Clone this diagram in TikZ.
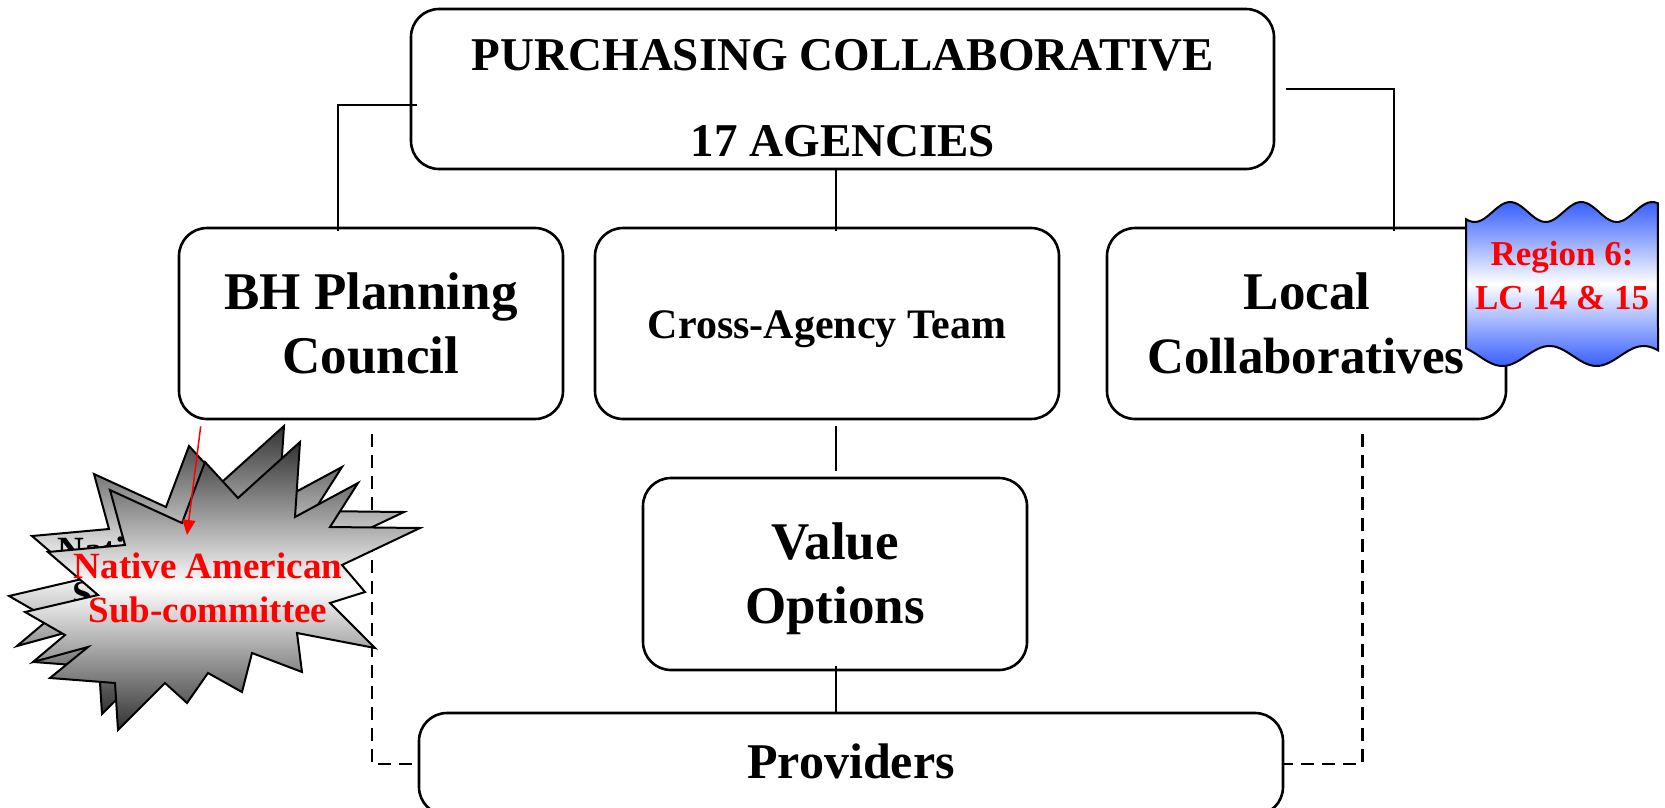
\documentclass[tikz,border=0pt]{standalone}
\usepackage{fontspec}
\setmainfont{Liberation Serif}
\usetikzlibrary{calc,arrows.meta}
\definecolor{wblue}{RGB}{55,95,255}
\newcommand\pcTitle{\bfseries\fontsize{47}{50}\selectfont}
\newcommand\pcBig{\bfseries\fontsize{53}{60}\selectfont}
\newcommand\pcColl{\bfseries\fontsize{51}{60}\selectfont}
\newcommand\pcMid{\bfseries\fontsize{42}{48}\selectfont}
\newcommand\pcProv{\bfseries\fontsize{50}{56}\selectfont}
\newcommand\pcStar{\bfseries\fontsize{37}{44}\selectfont}
\newcommand\pcReg{\bfseries\fontsize{35}{44}\selectfont}
\begin{document}
\begin{tikzpicture}[x=1pt,y=-1pt,
  box/.style={draw, line width=2.6pt, rounded corners=28pt, fill=white, inner sep=0pt},
  conn/.style={line width=2pt},
  dconn/.style={line width=2.4pt, dash pattern=on 13pt off 8pt},
  txt/.style={anchor=base, inner sep=0pt},
  starshape/.style={draw, line width=2pt, line join=miter, top color=black!80, bottom color=black!80, middle color=white},
  wavestyle/.style={draw, line width=2pt, top color=wblue, bottom color=wblue, middle color=white}]
\useasboundingbox (0,0) rectangle (1665,807);
\clip (0,0) rectangle (1665,807);

% boxes
\node[box, minimum width=863pt, minimum height=160pt] (top) at (842.5,89) {};
\node[box, minimum width=384pt, minimum height=191pt] (bh) at (371,323.5) {};
\node[box, minimum width=464pt, minimum height=191pt] (cross) at (827,323.5) {};
\node[box, minimum width=399pt, minimum height=191pt] (lc) at (1306.5,323.5) {};
\node[box, minimum width=384pt, minimum height=192pt] (value) at (835,574) {};
\node[box, minimum width=864pt, minimum height=102pt] (prov) at (851,764) {};

% texts
\node[txt, font=\pcTitle] (t1) at (843,70) {PURCHASING COLLABORATIVE};
\node[txt, font=\pcTitle] (t2) at (843,156) {17 AGENCIES};
\node[txt, font=\pcBig] (bh1) at (371,309) {BH Planning};
\node[txt, font=\pcBig] (bh2) at (371,373) {Council};
\node[txt, font=\pcMid] (cr1) at (827,338) {Cross-Agency Team};
\node[txt, font=\pcBig] (lc1) at (1307,309) {Local};
\node[txt, font=\pcColl] (lc2) at (1306,373) {Collaboratives};
\node[txt, font=\pcBig] (vo1) at (835,559) {Value};
\node[txt, font=\pcBig] (vo2) at (835,623) {Options};
\node[txt, font=\pcProv] (pr1) at (851,778) {Providers};

% connectors
\coordinate (vx) at (836,0);
\draw[conn] ($(top.west)+(7,16)$) -| ($(bh.north)+(-33,4)$);
\draw[conn] ($(top.east)+(11,0)$) -| ($(lc.north)+(87.5,4)$);
\draw[conn] (top.south -| vx) -- ($(cross.north -| vx)+(0,4)$);
\draw[conn] ($(cross.south -| vx)+(0,6)$) -- ($(value.north -| vx)+(0,-6)$);
\draw[conn] ($(value.south -| vx)+(0,-5)$) -- (prov.north -| vx);
\draw[dconn] ($(bh.south)+(1,14)$) |- (prov.west);
\draw[dconn] ($(lc.south)+(56,14)$) |- (prov.east);

% region wave
\draw[wavestyle] plot[domain=0:1, samples=60, smooth] ({1466+192*\x},{212-10*sin(360*(\x-0.23)/0.37+90)})
  -- plot[domain=1:0, samples=60, smooth] ({1466+192*\x},{356+10*sin(360*(\x-0.19)/0.49+90)}) -- cycle;
\node[txt, font=\pcReg, text=red] (rg1) at (1562,265) {Region 6:};
\node[txt, font=\pcReg, text=red] (rg2) at (1562,309) {LC 14 \& 15};

% starburst shadow
\begin{scope}[shift={(-16,-16)}]
\draw[starshape] (300,442) -- (295,517) -- (358,483) -- (330,527) -- (420,528) -- (342,565) -- (365,592) -- (330,603) -- (375,648) -- (297,633) -- (302,672) -- (252,653) -- (242,692) -- (208,673) -- (187,703) -- (165,683) -- (118,730) -- (115,683) -- (50,678) -- (88,647) -- (33,662) -- (65,635) -- (25,612) -- (98,595) -- (48,552) -- (125,545) -- (110,490) -- (182,523) -- (205,462) -- (238,498) -- cycle;
\node[txt, font=\pcStar, text=black] (sh1) at (208,578) {Native American};
\node[txt, font=\pcStar, text=black] (sh2) at (208,622) {Sub-committee};
\end{scope}
% starburst front
\draw[starshape] (300,442) -- (295,517) -- (358,483) -- (330,527) -- (420,528) -- (342,565) -- (365,592) -- (330,603) -- (375,648) -- (297,633) -- (302,672) -- (252,653) -- (242,692) -- (208,673) -- (187,703) -- (165,683) -- (118,730) -- (115,683) -- (50,678) -- (88,647) -- (33,662) -- (65,635) -- (25,612) -- (98,595) -- (48,552) -- (125,545) -- (110,490) -- (182,523) -- (205,462) -- (238,498) -- cycle;
\node[txt, font=\pcStar, text=red] (na1) at (208,578) {Native American};
\node[txt, font=\pcStar, text=red] (na2) at (208,622) {Sub-committee};

\coordinate (natip) at (187,535);
\draw[red, line width=1.5pt, -{Triangle[length=15pt,width=13pt]}] ($(bh.south west)+(23,6)$) -- (natip);
\end{tikzpicture}
\end{document}
